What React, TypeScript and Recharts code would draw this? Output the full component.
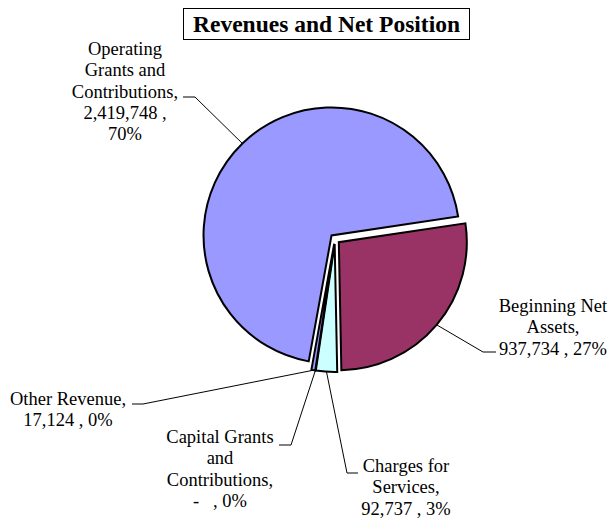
import React from "react";
import { PieChart, Pie, Cell } from "recharts";

// slice order follows the reference, clockwise from the first slice
const categories = [
  "Beginning Net Assets",
  "Charges for Services",
  "Capital Grants and Contributions",
  "Other Revenue",
  "Operating Grants and Contributions",
];
const amounts = [937734, 92737, 0, 17124, 2419748];
const colors = ["#993366", "#CCFFFF", "#FFFFCC", "#9999FF", "#9999FF"];

const FONT = "'Liberation Serif', Tinos, 'Times New Roman', Times, 'DejaVu Serif', serif";
const START_ANGLE = 8.5;
const CX = 335;
const CY = 239;
const RADIUS = 128;
const EXPLODE = 5;
const LINE_H = 21.3;
const RADIAN = Math.PI / 180;

// leader line elbow/end and text block per slice
const LABELS = [
  { elbow: [483, 352], end: [496, 352], x: 553, y: 312, breaks: [2, 1, 3] },
  { elbow: [347, 473], end: [358, 473], x: 406, y: 472, breaks: [2, 1, 3] },
  { elbow: [291, 445], end: [279, 445], x: 220, y: 443, breaks: [2, 1, 1, 3] },
  { elbow: [143, 404], end: [132, 404], x: 68, y: 405, breaks: [2, 3] },
  { elbow: [195, 97], end: [183, 97], x: 125, y: 55, breaks: [1, 2, 1, 2, 1] },
];

const data = categories.map((name, i) => ({ name, value: amounts[i] }));
const total = amounts.reduce((a, b) => a + b, 0);

// explode offsets along each slice's mid angle
let acc = 0;
const offsets = amounts.map((v) => {
  const start = START_ANGLE - (acc / total) * 360;
  acc += v;
  const end = START_ANGLE - (acc / total) * 360;
  const mid = (start + end) / 2;
  return { dx: EXPLODE * Math.cos(mid * RADIAN), dy: -EXPLODE * Math.sin(mid * RADIAN) };
});

const fmt = (v: number) => (v === 0 ? "-\u00a0\u00a0" : v.toLocaleString("en-US"));

function labelLines(i: number) {
  const words = categories[i].split(" ");
  words[words.length - 1] += ",";
  const pct = Math.round((amounts[i] / total) * 100);
  const tokens = [...words, fmt(amounts[i]), ",", `${pct}%`];
  const lines: string[] = [];
  let k = 0;
  for (const n of LABELS[i].breaks) {
    lines.push(tokens.slice(k, k + n).join(" "));
    k += n;
  }
  return lines;
}

const renderLabel = ({ cx, cy, midAngle, outerRadius, index }: any) => {
  const o = offsets[index];
  const r = outerRadius;
  const sx = cx + o.dx + r * Math.cos(-midAngle * RADIAN);
  const sy = cy + o.dy + r * Math.sin(-midAngle * RADIAN);
  const L = LABELS[index];
  return (
    <g key={`label-${index}`}>
      <polyline
        points={`${sx},${sy} ${L.elbow[0]},${L.elbow[1]} ${L.end[0]},${L.end[1]}`}
        stroke="#000"
        strokeWidth={1}
        fill="none"
      />
      <text x={L.x} y={L.y} textAnchor="middle" style={{ fontFamily: FONT }} fontSize={18.5} fill="#000">
        {labelLines(index).map((line, j) => (
          <tspan key={j} x={L.x} y={L.y + j * LINE_H} style={{ whiteSpace: "pre" }}>
            {line}
          </tspan>
        ))}
      </text>
    </g>
  );
};

// draw order: big slice first
const drawOrder = [4, 0, 1, 3];

export default function App() {
  return (
    <div style={{ position: "absolute", left: 0, top: 0, width: 610, height: 521, background: "#fff", fontFamily: FONT }}>
      <div
        style={{
          position: "absolute",
          left: 183,
          top: 8,
          width: 287,
          height: 32,
          boxSizing: "border-box",
          border: "1.5px solid #000",
          fontFamily: FONT,
          fontWeight: "bold",
          fontSize: 23.5,
          lineHeight: "30px",
          textAlign: "center",
          whiteSpace: "nowrap",
        }}
      >
        Revenues and Net Position
      </div>
      <PieChart width={610} height={521} margin={{ top: 0, right: 0, bottom: 0, left: 0 }}>
        {drawOrder.map((target) => (
          <Pie
            key={`slice-${target}`}
            data={data}
            dataKey="value"
            nameKey="name"
            cx={CX + offsets[target].dx}
            cy={CY + offsets[target].dy}
            outerRadius={RADIUS}
            startAngle={START_ANGLE}
            endAngle={START_ANGLE - 360}
            labelLine={false}
            isAnimationActive={false}
          >
            {data.map((_, i) => (
              <Cell
                key={`cell-${i}`}
                fill={i === target ? colors[i] : "none"}
                stroke={i === target ? "#000" : "none"}
                strokeWidth={2}
              />
            ))}
          </Pie>
        ))}
        <Pie
          data={data}
          dataKey="value"
          nameKey="name"
          cx={CX}
          cy={CY}
          outerRadius={RADIUS}
          startAngle={START_ANGLE}
          endAngle={START_ANGLE - 360}
          label={renderLabel}
          labelLine={false}
          isAnimationActive={false}
        >
          {data.map((_, i) => (
            <Cell key={`lc-${i}`} fill="none" stroke="none" />
          ))}
        </Pie>
      </PieChart>
    </div>
  );
}
